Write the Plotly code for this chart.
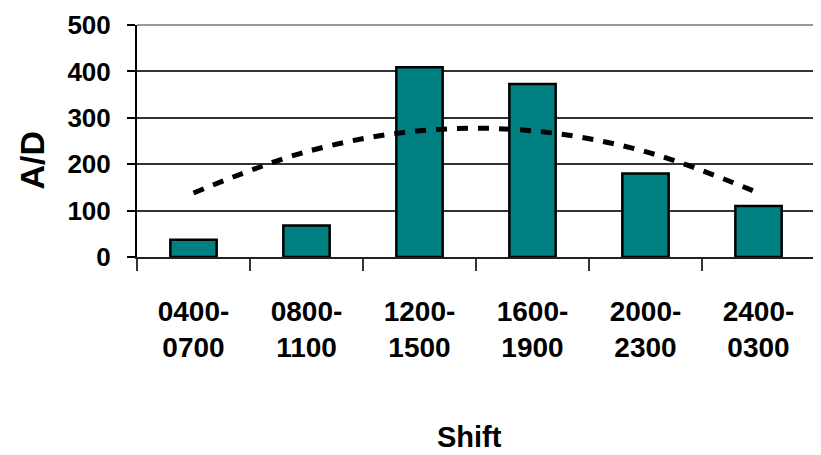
import plotly.graph_objects as go

shifts = ["0400-<br>0700", "0800-<br>1100", "1200-<br>1500", "1600-<br>1900", "2000-<br>2300", "2400-<br>0300"]
ad_values = [37, 68, 409, 373, 180, 110]
trend_values = [138, 227, 272, 272, 227, 138]
y_ticks = [0, 100, 200, 300, 400, 500]

FONT = "Liberation Sans, Arial, sans-serif"

fig = go.Figure()
fig.add_trace(go.Bar(
    x=shifts, y=ad_values,
    marker=dict(color="#008080", line=dict(color="black", width=2.5)),
    width=0.41, showlegend=False,
))
fig.add_trace(go.Scatter(
    x=shifts, y=trend_values, mode="lines",
    line=dict(color="black", width=5, dash="11px,10px", shape="spline"),
    showlegend=False,
))

# page body has an 8px default margin, so the figure is 8px smaller
fig.update_layout(
    width=813, height=447,
    margin=dict(l=129, r=6, t=17, b=198),
    paper_bgcolor="white", plot_bgcolor="white",
    font=dict(family=FONT, color="black"),
    bargap=0.59,
    xaxis=dict(
        type="category", range=[-0.5, 5.5], automargin=False,
        showline=True, linecolor="#222", linewidth=2,
        ticks="outside", tickson="boundaries", ticklen=12, tickcolor="#333", tickwidth=1.5,
        tickfont=dict(family=FONT, size=28, color="black", weight="bold"),
        ticklabelstandoff=28,
        showgrid=False, mirror=False,
    ),
    yaxis=dict(
        range=[0, 500], tickvals=y_ticks, automargin=False,
        showline=True, linecolor="black", linewidth=2,
        ticks="outside", ticklen=8, tickcolor="black", tickwidth=2,
        tickfont=dict(family=FONT, size=26, color="black", weight="bold"),
        ticklabelstandoff=11,
        showgrid=True, gridcolor="#333", gridwidth=1.5,
        zeroline=False,
    ),
    shapes=[
        dict(type="line", xref="paper", yref="paper", x0=0, x1=1, y0=1, y1=1,
             line=dict(color="#999", width=2)),
        dict(type="line", xref="paper", yref="paper", x0=1, x1=1, y0=0, y1=1,
             line=dict(color="#999", width=2)),
    ],
    annotations=[
        dict(text="A/D", xref="paper", yref="paper", x=-0.155, y=0.42,
             textangle=-90, showarrow=False, xanchor="center", yanchor="middle",
             font=dict(family=FONT, size=34, color="black", weight="bold")),
        dict(text="Shift", xref="paper", yref="paper", x=0.491, y=-0.776,
             showarrow=False, xanchor="center", yanchor="middle",
             font=dict(family=FONT, size=29, color="black", weight="bold")),
    ],
)

fig.write_html("out.html")
